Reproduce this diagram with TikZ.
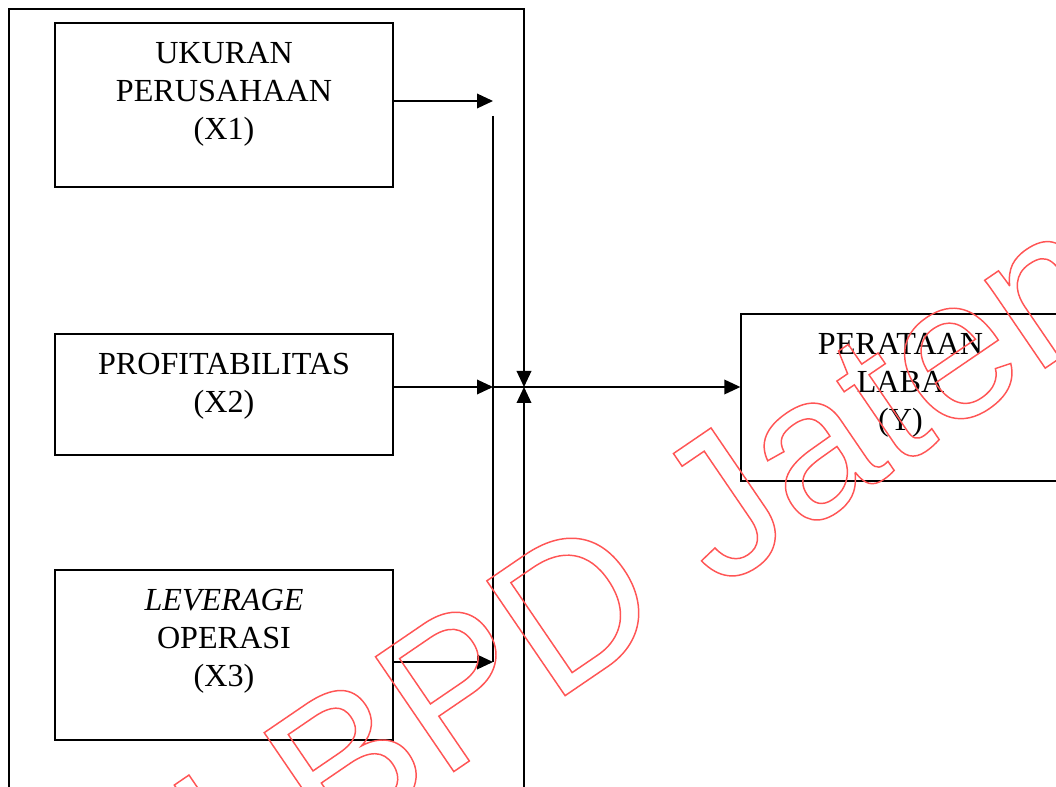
\documentclass[tikz,border=0pt]{standalone}
\usepackage{fontspec}
\setmainfont{Liberation Serif}
\newfontfamily\wmfont{Liberation Sans}
\usetikzlibrary{positioning,arrows.meta}
\definecolor{wmred}{RGB}{255,85,85}
\tikzset{
  var/.style={
    % The shape:
    shape=rectangle,
    % The size:
    minimum width=253.5pt,
    % The border:
    line width=1pt,draw=black}}
\tikzset{
	caption/.style={
		% The text:
		inner sep=0pt,align=center,
		font=\fontsize{24.1}{28.6}\selectfont}}
\tikzset{
	link/.style={line width=1pt,-{Triangle[length=12pt,width=11pt]}},
	watermark/.style={inner sep=0pt,text=wmred,
		font=\wmfont\fontsize{151.5}{151.5}\selectfont}}

\begin{document}
\begin{tikzpicture}[x=0.75pt,y=-0.75pt,line width=1pt]
	\clip (0,0) rectangle (1056,787);
	% The independent variables
	\node[var,minimum height=123pt] (x1) at (224,105) {};
	\node[caption] (x1t) [below=14.25pt of x1.north] {UKURAN\\PERUSAHAAN\\(X1)};
	\node[var,minimum height=90.75pt] (x2) at (224,394.5) {};
	\node[caption] (x2t) [below=14.25pt of x2.north] {PROFITABILITAS\\(X2)};
	\node[var,minimum height=127.5pt] (x3) at (224,655) {};
	\node[caption] (x3t) [below=14.25pt of x3.north] {\textit{LEVERAGE}\\OPERASI\\(X3)};
	% The dependent variable
	\node[var,minimum width=239.25pt,minimum height=125.25pt] (y) at (900.5,397.5) {};
	\node[caption] (yt) [below=14.25pt of y.north] {PERATAAN\\LABA\\(Y)};
	% Points on the two vertical lines
	\coordinate (c1) at (493,101);
	\coordinate (c2) at (493,387);
	\coordinate (c3) at (493,662);
	\coordinate (ctop) at (493,116);
	\coordinate (jn) at (524,387);
	% The frame round the X boxes
	\draw[link] (9,800) -- (9,9) -- (524,9) -- (jn);
	\draw[link] (524,800) -- (jn);
	% Lines out of the X boxes
	\draw[link] (x1.east |- c1) -- (c1);
	\draw[link] (x2.east |- c2) -- (c2);
	\draw[link] (x3.east |- c3) -- (c3);
	\draw (ctop) -- (c3);
	\draw (c2) -- (jn);
	% Line into y
	\draw[link] (jn) -- (y.west |- jn);
	% The watermark
	\node[watermark,anchor=base west,rotate=34.3] (wm) at (245,914)
		{\special{pdf:literal direct 1 Tr 1.1 w}l BPD Jateng\special{pdf:literal direct 0 Tr}};
\end{tikzpicture}
\end{document}
